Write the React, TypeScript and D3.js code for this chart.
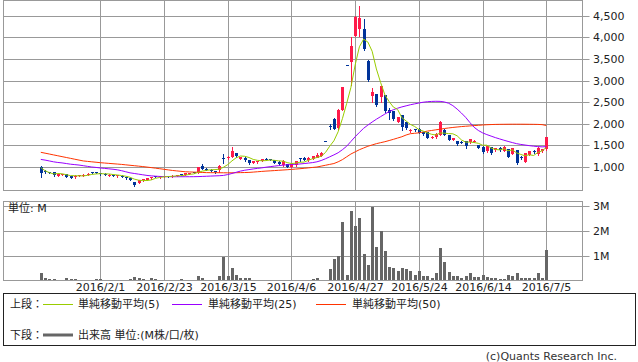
import React from "react";
import * as d3 from "d3";

const dates: string[] = [
  "2016/1/12","2016/1/13","2016/1/14","2016/1/15","2016/1/18","2016/1/19","2016/1/20","2016/1/21","2016/1/22","2016/1/25","2016/1/26","2016/1/27","2016/1/28","2016/1/29",
  "2016/2/1","2016/2/2","2016/2/3","2016/2/4","2016/2/5","2016/2/8","2016/2/9","2016/2/10","2016/2/12","2016/2/15","2016/2/16","2016/2/17","2016/2/18","2016/2/19","2016/2/22","2016/2/23","2016/2/24","2016/2/25","2016/2/26","2016/2/29",
  "2016/3/1","2016/3/2","2016/3/3","2016/3/4","2016/3/7","2016/3/8","2016/3/9","2016/3/10","2016/3/11","2016/3/14","2016/3/15","2016/3/16","2016/3/17","2016/3/18","2016/3/22","2016/3/23","2016/3/24","2016/3/25","2016/3/28","2016/3/29","2016/3/30","2016/3/31",
  "2016/4/1","2016/4/4","2016/4/5","2016/4/6","2016/4/7","2016/4/8","2016/4/11","2016/4/12","2016/4/13","2016/4/14","2016/4/15","2016/4/18","2016/4/19","2016/4/20","2016/4/21","2016/4/22","2016/4/25","2016/4/26","2016/4/27","2016/4/28",
  "2016/5/2","2016/5/6","2016/5/9","2016/5/10","2016/5/11","2016/5/12","2016/5/13","2016/5/16","2016/5/17","2016/5/18","2016/5/19","2016/5/20","2016/5/23","2016/5/24","2016/5/25","2016/5/26","2016/5/27","2016/5/30","2016/5/31",
  "2016/6/1","2016/6/2","2016/6/3","2016/6/6","2016/6/7","2016/6/8","2016/6/9","2016/6/10","2016/6/13","2016/6/14","2016/6/15","2016/6/16","2016/6/17","2016/6/20","2016/6/21","2016/6/22","2016/6/23","2016/6/24","2016/6/27","2016/6/28","2016/6/29","2016/6/30",
  "2016/7/1","2016/7/4","2016/7/5"
];

const openP: number[] = [
  990,910,880,875,800,815,840,790,760,800,810,820,875,880,
  860,840,800,815,785,800,770,740,650,630,690,700,740,790,760,775,790,770,795,840,810,845,880,860,
  1030,960,940,900,940,1200,1200,1240,1320,1190,1210,1160,1100,1110,1150,1190,1190,1160,1110,1040,1060,1010,1040,1200,1210,1160,1190,1200,1260,
  1610,1960,2100,1900,2330,3370,3420,4040,4190,4200,3460,2640,2680,2630,2660,2320,2290,2050,2200,2030,
  1830,1880,1890,1810,1800,1680,1690,1750,1860,1740,1630,1600,1580,1590,1570,1590,1510,1470,1360,1460,1390,1440,1380,1410,1300,1390,1230,1120,1280,1370,1290,1360,1410
];
const highP: number[] = [
  1020,920,895,880,840,835,845,795,805,815,830,850,890,885,
  870,850,830,820,820,805,775,745,660,700,730,750,780,800,800,800,795,810,825,845,855,870,885,1000,
  1080,970,960,905,1040,1310,1250,1460,1330,1240,1220,1170,1150,1150,1190,1200,1195,1170,1130,1160,1070,1070,1150,1210,1220,1220,1260,1330,1340,
  1610,2000,2130,2340,2840,3370,4010,4490,4720,4420,3470,2820,2690,2880,2670,2360,2300,2160,2210,2040,
  1870,1890,1900,1820,1810,1710,1780,2070,1870,1750,1680,1610,1590,1600,1650,1620,1520,1480,1490,1470,1450,1460,1480,1420,1440,1400,1250,1330,1370,1390,1460,1420,1700
];
const lowP: number[] = [
  780,860,850,795,790,805,770,745,755,790,800,815,850,850,
  820,805,795,790,780,760,725,690,570,620,680,690,730,760,750,770,770,765,790,805,805,840,850,850,
  950,920,900,870,890,1100,1190,1230,1240,1180,1150,1080,1090,1100,1140,1170,1165,1090,1050,1030,1000,1000,1030,1130,1160,1150,1180,1220,1260,
  1595,1880,1870,1890,2320,3350,2900,4030,4020,3700,3000,2510,2420,2510,2280,2110,2090,2040,1850,1880,
  1820,1840,1780,1750,1670,1660,1680,1740,1730,1620,1620,1520,1550,1450,1560,1580,1440,1320,1350,1310,1380,1380,1370,1230,1290,1080,1190,1110,1270,1320,1280,1350,1400
];
const closeP: number[] = [
  860,880,870,805,830,830,780,755,800,810,825,840,865,860,
  835,815,820,800,810,770,735,700,585,690,720,740,770,770,790,790,775,800,815,815,850,860,860,990,
  960,935,930,885,1030,1190,1240,1360,1250,1230,1160,1100,1140,1140,1180,1180,1170,1100,1080,1150,1010,1060,1140,1190,1170,1210,1250,1280,1330,
  1600,1940,1880,2330,2840,3350,3800,4480,4440,3720,3010,2740,2430,2870,2290,2240,2100,2150,1930,1900,
  1850,1860,1790,1760,1680,1695,1770,2030,1740,1630,1670,1540,1560,1480,1640,1610,1450,1340,1480,1320,1440,1400,1470,1240,1430,1100,1210,1320,1360,1340,1440,1410,1700
];
const volumeM: number[] = [
  0.34,0.14,0.1,0.1,0.03,0.03,0.14,0.1,0.09,0.03,0.03,0.03,0.04,0.08,
  0.08,0.03,0.03,0.02,0.03,0.03,0.04,0.1,0.16,0.12,0.1,0.04,0.12,0.08,0.03,0.02,0.03,0.03,0.05,0.08,0.04,0.03,0.05,0.2,
  0.14,0.04,0.03,0.04,0.2,0.97,0.2,0.54,0.24,0.14,0.14,0.12,0.06,0.03,0.04,0.06,0.03,0.02,0.04,0.06,0.03,0.03,0.05,0.06,0.03,0.06,0.1,0.14,0.06,
  0.04,0.5,0.89,1.0,2.36,0.27,2.81,2.2,2.52,1.09,0.67,2.96,1.37,1.99,1.22,0.58,0.54,0.43,0.54,0.48,
  0.43,0.25,0.43,0.23,0.2,0.15,0.35,1.33,0.77,0.38,0.2,0.2,0.14,0.2,0.33,0.17,0.17,0.25,0.18,0.12,0.12,0.08,0.08,0.25,0.2,0.33,0.12,0.12,0.12,0.12,0.33,0.12,1.25
];
const ma5Head: number[] = [985, 915, 870, 840];
const ma25: number[] = [
  1175,1160,1140,1120,1105,1095,1080,1065,1055,1045,1030,1015,1000,990,
  978,968,958,948,935,915,890,865,850,835,820,805,795,788,782,778,776,775,775,775,775,775,776,778,
  782,786,790,794,798,805,825,850,878,905,925,940,955,968,980,995,1008,1020,1032,1043,1050,1057,1064,1070,1080,1090,1102,1120,1150,
  1190,1235,1280,1330,1400,1480,1590,1700,1800,1895,1970,2040,2105,2165,2225,2280,2325,2360,2390,2415,
  2440,2460,2480,2498,2510,2517,2520,2518,2505,2475,2420,2340,2250,2150,2030,1920,1845,1790,1750,1715,1680,1650,1620,1592,1565,1540,1522,1508,1494,1482,1472,1466,1470
];
const ma50: number[] = [
  1340,1320,1300,1280,1260,1240,1220,1200,1180,1160,1140,1130,1120,1110,
  1100,1092,1084,1076,1068,1060,1050,1040,1030,1020,1010,998,986,973,960,947,933,920,910,900,890,886,882,878,
  874,870,869,868,867,866,865,866,868,870,872,875,882,890,898,905,911,917,924,930,937,945,952,960,970,980,990,1000,1020,
  1040,1060,1080,1120,1170,1235,1300,1350,1400,1440,1480,1510,1540,1563,1585,1612,1640,1670,1700,1740,
  1770,1780,1790,1810,1830,1845,1860,1875,1890,1903,1915,1925,1935,1943,1950,1958,1965,1972,1978,1982,1985,1987,1988,1989,1990,1990,1990,1989,1988,1987,1985,1980,1960
];
const priceTicks: number[] = [1000, 1500, 2000, 2500, 3000, 3500, 4000, 4500];
const volumeTicks: number[] = [1, 2, 3];
const dateTicks: string[] = ["2016/2/1","2016/2/23","2016/3/15","2016/4/6","2016/4/27","2016/5/24","2016/6/14","2016/7/5"];

const UP = "#ff1a4a";
const DOWN = "#003399";
const C5 = "#99cc00";
const C25 = "#9900ff";
const C50 = "#ff3300";
const GRID = "#999999";
const FONT = "'DejaVu Sans', 'Noto Sans CJK JP', sans-serif";

export default function App() {
  const x = d3.scalePoint<string>().domain(dates).range([40.8, 546.3]);
  const y = d3.scaleLinear().domain([1000, 4500]).range([167, 15.7]);
  const yv = d3.scaleLinear().domain([0, 3]).range([281.5, 205.7]);
  const L = 3.5, R = 582.5, T1 = 0.5, B1 = 190.5, T2 = 201.5, B2 = 280.5;

  const ma5 = closeP.map((c, i) =>
    i < ma5Head.length ? ma5Head[i] : d3.mean(closeP.slice(i - 4, i + 1)) as number
  );
  const line = d3.line<number>().x((_, i) => x(dates[i]) as number).y((v) => y(v));

  const gridX = dateTicks.map((d) => Math.round(x(d) as number) + 0.5);

  return (
    <div style={{ position: "absolute", left: 0, top: 0 }}>
      <svg width={638} height={362} style={{ display: "block", fontFamily: FONT }}>
        <rect width={638} height={362} fill="#fff" />
        {priceTicks.map((t) => {
          const yy = Math.round(y(t)) + 0.5;
          return (
            <g key={"p" + t}>
              <line x1={L} x2={R + 7} y1={yy} y2={yy} stroke={GRID} />
              <text x={593} y={yy} fontSize={11} dominantBaseline="central" fill="#222">
                {d3.format(",")(t)}
              </text>
            </g>
          );
        })}
        {gridX.map((gx, i) => (
          <g key={"gx" + i}>
            <line x1={gx} x2={gx} y1={T1} y2={B1} stroke={GRID} />
            <line x1={gx} x2={gx} y1={T2} y2={B2} stroke={GRID} />
            <text x={gx} y={291} fontSize={11} textAnchor="middle" fill="#222">{dateTicks[i]}</text>
          </g>
        ))}
        {volumeTicks.map((t) => {
          const yy = Math.round(yv(t)) + 0.5;
          return (
            <g key={"v" + t}>
              <line x1={L} x2={R + 7} y1={yy} y2={yy} stroke={GRID} />
              <text x={593} y={yy} fontSize={11} dominantBaseline="central" fill="#222">{t}M</text>
            </g>
          );
        })}
        <rect x={L} y={T1} width={R - L} height={B1 - T1} fill="none" stroke={GRID} />
        <rect x={L} y={T2} width={R - L} height={B2 - T2} fill="none" stroke={GRID} />

        {volumeM.map((v, i) => {
          const cx = Math.round(x(dates[i]) as number);
          const top = Math.round(yv(v));
          return <rect key={"vb" + i} x={cx - 1} y={top} width={3} height={Math.max(0, 280 - top)} fill="#666666" />;
        })}
        <text x={8} y={208} fontSize={11} dominantBaseline="central" fill="#222">単位: M</text>

        {closeP.map((c, i) => {
          const o = openP[i];
          const cx = Math.round(x(dates[i]) as number);
          const up = c >= o;
          const col = up ? UP : DOWN;
          const yt = Math.round(y(Math.max(o, c)));
          const yb = Math.round(y(Math.min(o, c)));
          return (
            <g key={"c" + i}>
              <line x1={cx + 0.5} x2={cx + 0.5} y1={Math.round(y(highP[i]))} y2={Math.round(y(lowP[i])) + 1} stroke={col} />
              <rect x={cx - 1} y={yt} width={3} height={Math.max(1, yb - yt)} fill={col} />
            </g>
          );
        })}

        <path d={line(ma50) as string} fill="none" stroke={C50} strokeWidth={1} />
        <path d={line(ma25) as string} fill="none" stroke={C25} strokeWidth={1} />
        <path d={line(ma5) as string} fill="none" stroke={C5} strokeWidth={1} />

        <rect x={3.5} y={293.5} width={632} height={52} fill="none" stroke="#222" />
        <g fontSize={11} fill="#222">
          <text x={10} y={304} dominantBaseline="central">上段：</text>
          <line x1={43} x2={73} y1={304.5} y2={304.5} stroke={C5} />
          <text x={78} y={304} dominantBaseline="central">単純移動平均(5)</text>
          <line x1={172} x2={202} y1={304.5} y2={304.5} stroke={C25} />
          <text x={208} y={304} dominantBaseline="central">単純移動平均(25)</text>
          <line x1={316} x2={346} y1={304.5} y2={304.5} stroke={C50} />
          <text x={352} y={304} dominantBaseline="central">単純移動平均(50)</text>
          <text x={10} y={335} dominantBaseline="central">下段：</text>
          <line x1={43} x2={73} y1={335} y2={335} stroke="#666" strokeWidth={3} />
          <text x={78} y={335} dominantBaseline="central">出来高 単位:(M株/口/枚)</text>
        </g>
        <text x={617} y={356} fontSize={11} textAnchor="end" dominantBaseline="central" fill="#333">(c)Quants Research Inc.</text>
      </svg>
    </div>
  );
}
